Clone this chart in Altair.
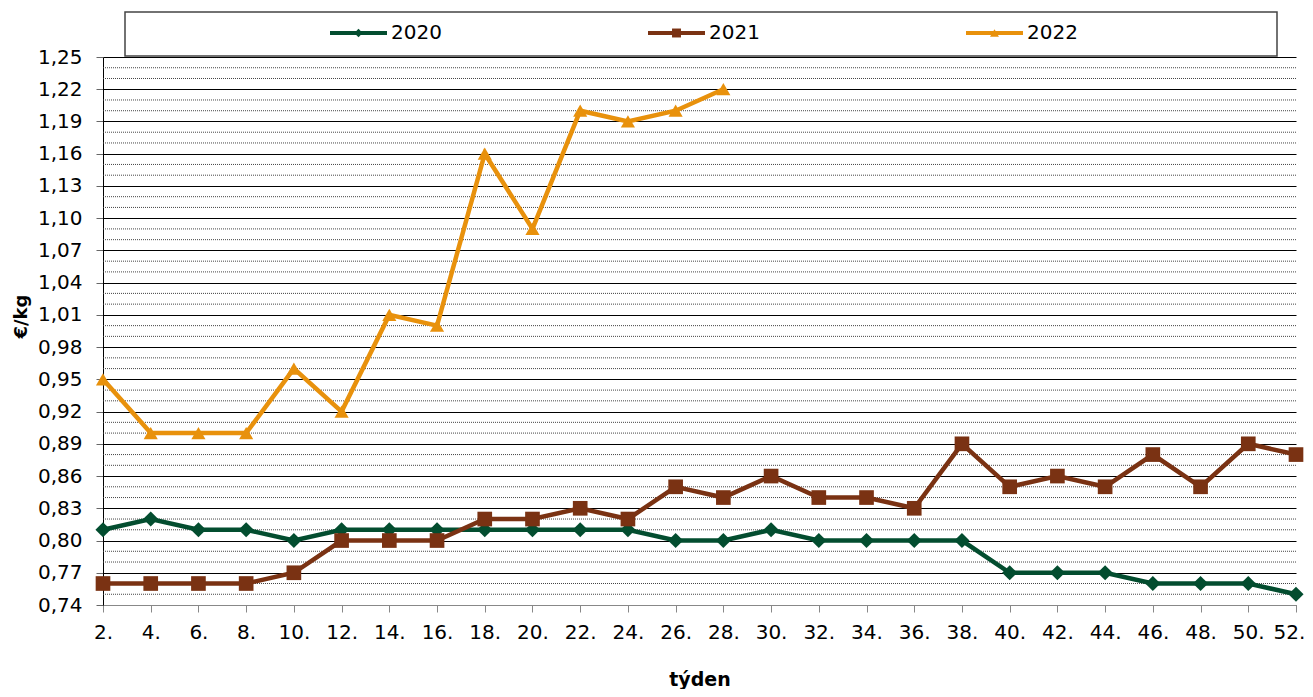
import altair as alt
import pandas as pd

weeks = list(range(2, 53, 2))
s2020 = [0.81, 0.82, 0.81, 0.81, 0.80, 0.81, 0.81, 0.81, 0.81, 0.81, 0.81, 0.81, 0.80,
         0.80, 0.81, 0.80, 0.80, 0.80, 0.80, 0.77, 0.77, 0.77, 0.76, 0.76, 0.76, 0.75]
s2021 = [0.76, 0.76, 0.76, 0.76, 0.77, 0.80, 0.80, 0.80, 0.82, 0.82, 0.83, 0.82, 0.85,
         0.84, 0.86, 0.84, 0.84, 0.83, 0.89, 0.85, 0.86, 0.85, 0.88, 0.85, 0.89, 0.88]
s2022 = [0.95, 0.90, 0.90, 0.90, 0.96, 0.92, 1.01, 1.00, 1.16, 1.09, 1.20, 1.19, 1.20, 1.22]
series_names = ["2020", "2021", "2022"]
series_colors = ["#034d2f", "#7a3213", "#e8910c"]
series_shapes = ["diamond", "square", "triangle-up"]
y_ticks = [0.74, 0.77, 0.80, 0.83, 0.86, 0.89, 0.92, 0.95, 0.98, 1.01, 1.04, 1.07,
           1.10, 1.13, 1.16, 1.19, 1.22, 1.25]
y_minor = [round(0.74 + 0.01 * i, 2) for i in range(52) if i % 3 != 0]

rows = []
for name, vals in zip(series_names, [s2020, s2021, s2022]):
    for w, v in zip(weeks, vals):
        rows.append({"week": w, "value": v, "year": name})
df = pd.DataFrame(rows)

FONT = "DejaVu Sans"
W, H = 1193, 548

xs = alt.Scale(domain=[2, 52], nice=False, zero=False)
ys = alt.Scale(domain=[0.74, 1.25], nice=False, zero=False)
cs = alt.Scale(domain=series_names, range=series_colors)
ss = alt.Scale(domain=series_names, range=series_shapes)

y_axis = alt.Axis(values=y_ticks,
                  labelExpr="replace(format(datum.value, '.2f'), '.', ',')",
                  title="€/kg", grid=True, gridColor="#000", gridWidth=1,
                  domainColor="#000", tickColor="#666", tickSize=7,
                  labelPadding=14, labelFontSize=20, titleFontSize=18,
                  titleFontWeight="bold", titleX=-82, titleY=259,
                  titleBaseline="middle", titleAlign="center")
x_axis = alt.Axis(values=weeks, labelExpr="datum.value + '.'", title="týden",
                  grid=False, domainColor="#888", tickColor="#888", tickSize=7,
                  labelPadding=10, labelFontSize=20, titleFontSize=19,
                  titleFontWeight="bold", titleY=74, titleBaseline="middle",
                  labelFlush=False,
                  labelOffset={"condition": {"test": "datum.value == 52", "value": -7},
                               "value": 0})

minor = alt.Chart(pd.DataFrame({"v": y_minor})).mark_rule(
    color="#444", strokeWidth=1, strokeDash=[1, 1]
).encode(y=alt.Y("v:Q", scale=ys, axis=y_axis))

base = alt.Chart(df)
lines = base.mark_line(strokeWidth=4.5).encode(
    x=alt.X("week:Q", scale=xs, axis=x_axis),
    y=alt.Y("value:Q", scale=ys, axis=y_axis),
    color=alt.Color("year:N", scale=cs, legend=None),
    detail="year:N",
)
points = base.mark_point(filled=True, opacity=1).encode(
    x=alt.X("week:Q", scale=xs, axis=x_axis),
    y=alt.Y("value:Q", scale=ys, axis=y_axis),
    color=alt.Color("year:N", scale=cs, legend=None),
    shape=alt.Shape("year:N", scale=ss, legend=None),
    size=alt.Size("year:N", scale=alt.Scale(domain=series_names, range=[230, 200, 180]),
                  legend=None),
)

one = pd.DataFrame({"a": [0]})
box = alt.Chart(one).mark_rect(fill="white", stroke="#444", strokeWidth=1.5).encode(
    x=alt.value(22), x2=alt.value(1174), y=alt.value(-45), y2=alt.value(-1))

leg_layers = [box]
leg_x = [227, 545, 863]
leg_sizes = [70, 80, 80]
for name, col, shp, lx, sz in zip(series_names, series_colors, series_shapes, leg_x, leg_sizes):
    leg_layers.append(alt.Chart(one).mark_rule(color=col, strokeWidth=4).encode(
        x=alt.value(lx), x2=alt.value(lx + 57), y=alt.value(-24)))
    leg_layers.append(alt.Chart(one).mark_point(filled=True, opacity=1, color=col,
                                                shape=shp, size=sz).encode(
        x=alt.value(lx + 28.5), y=alt.value(-24)))
    leg_layers.append(alt.Chart(one).mark_text(text=name, font=FONT, fontSize=20,
                                               align="left", baseline="middle",
                                               color="#000").encode(
        x=alt.value(lx + 61), y=alt.value(-24)))

chart = alt.layer(minor, lines, points, *leg_layers).properties(
    width=W, height=H,
    autosize=alt.AutoSizeParams(type="none"),
    padding={"left": 95, "top": 49, "right": 9, "bottom": 84},
).configure_view(strokeWidth=0).configure_axis(
    labelFont=FONT, titleFont=FONT, labelColor="#000", titleColor="#000"
).resolve_scale(color="shared")

chart.save("out.html", embed_options={"renderer": "svg", "actions": False})
